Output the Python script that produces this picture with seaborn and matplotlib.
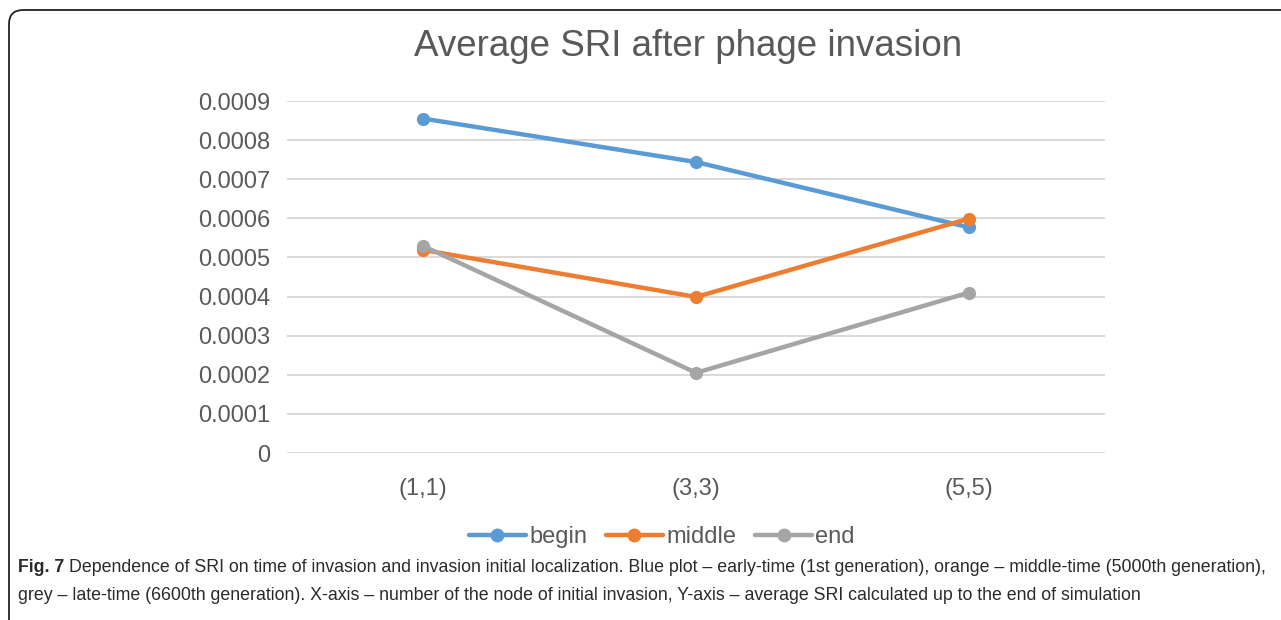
import numpy as np
import pandas as pd
import seaborn as sns
import matplotlib.pyplot as plt
from matplotlib.patches import FancyBboxPatch

# values
categories = ["(1,1)", "(3,3)", "(5,5)"]
begin = [0.000855, 0.000744, 0.000577]
middle = [0.000519, 0.000399, 0.000599]
end = [0.000529, 0.000205, 0.000410]
series_names = ["begin", "middle", "end"]
colors = ["#5B9BD5", "#ED7D31", "#A5A5A5"]
y_ticks = [0, 0.0001, 0.0002, 0.0003, 0.0004, 0.0005, 0.0006, 0.0007, 0.0008, 0.0009]

df = pd.DataFrame({
    "node": categories * 3,
    "sri": begin + middle + end,
    "series": [s for s in series_names for _ in categories],
})

sns.set_style("white")
plt.rcParams["font.family"] = ["Liberation Sans", "DejaVu Sans"]

W, H = 1281, 620
fig = plt.figure(figsize=(W / 100, H / 100), dpi=100)
ax = fig.add_axes([287 / W, 1 - 453 / H, (1105 - 287) / W, (453 - 101) / H])

sns.lineplot(
    data=df, x="node", y="sri", hue="series", hue_order=series_names,
    palette=colors, marker="o", markersize=9.5, markeredgewidth=0,
    linewidth=3.2, sort=False, ax=ax, legend=False,
)

ax.set_xlim(-0.5, 2.5)
ax.set_ylim(0, 0.0009)
ax.set_yticks(y_ticks)
ax.set_yticklabels(["0"] + [f"{v:.4f}" for v in y_ticks[1:]])
ax.set_xticks(range(len(categories)))
ax.set_xticklabels(categories)
ax.grid(axis="y", color="#D9D9D9", linewidth=1.4)
ax.set_axisbelow(True)
for sp in ax.spines.values():
    sp.set_visible(False)
ax.tick_params(axis="both", length=0, labelsize=17, colors="#595959")
ax.tick_params(axis="y", pad=12)
ax.tick_params(axis="x", pad=18)
ax.set_xlabel("")
ax.set_ylabel("")

fig.text(688 / W, 1 - 47 / H, "Average SRI after phage invasion",
         ha="center", va="center", fontsize=26.5, color="#595959")

# legend
handles = [plt.Line2D([], [], color=c, linewidth=3.2, marker="o", markersize=10,
                      markeredgewidth=0) for c in colors]
fig.legend(handles, series_names, loc="center", bbox_to_anchor=(662 / W, 1 - 537 / H),
           ncol=3, frameon=False, fontsize=17, handlelength=2.4, handletextpad=0.15,
           columnspacing=0.8, labelcolor="#595959")

# rounded frame around the chart, cut at right and bottom
frame = FancyBboxPatch((9 / W, -0.2), 1.2, 1 - 10 / H + 0.2,
                       boxstyle="round,pad=0,rounding_size=0.011",
                       transform=fig.transFigure, fill=False,
                       edgecolor="#222222", linewidth=1.3, mutation_aspect=W / H)
fig.patches.append(frame)

# caption
cap_font = ["Liberation Sans", "DejaVu Sans"]
fig.canvas.draw()
r = fig.canvas.get_renderer()
t1 = fig.text(18 / W, 1 - 567 / H, "Fig. 7", fontsize=12.8, fontweight="bold",
              family=cap_font, color="#2a2a2a", va="center", ha="left")
bb = t1.get_window_extent(renderer=r)
fig.text((bb.x1 + 5) / W, 1 - 567 / H,
         "Dependence of SRI on time of invasion and invasion initial localization. "
         "Blue plot \u2013 early-time (1st generation), orange \u2013 middle-time (5000th generation),",
         fontsize=12.8, family=cap_font, color="#2a2a2a", va="center", ha="left")
fig.text(18 / W, 1 - 595 / H,
         "grey \u2013 late-time (6600th generation). X-axis \u2013 number of the node of initial invasion, "
         "Y-axis \u2013 average SRI calculated up to the end of simulation",
         fontsize=12.8, family=cap_font, color="#2a2a2a", va="center", ha="left")

fig.savefig("out.png", dpi=100)
